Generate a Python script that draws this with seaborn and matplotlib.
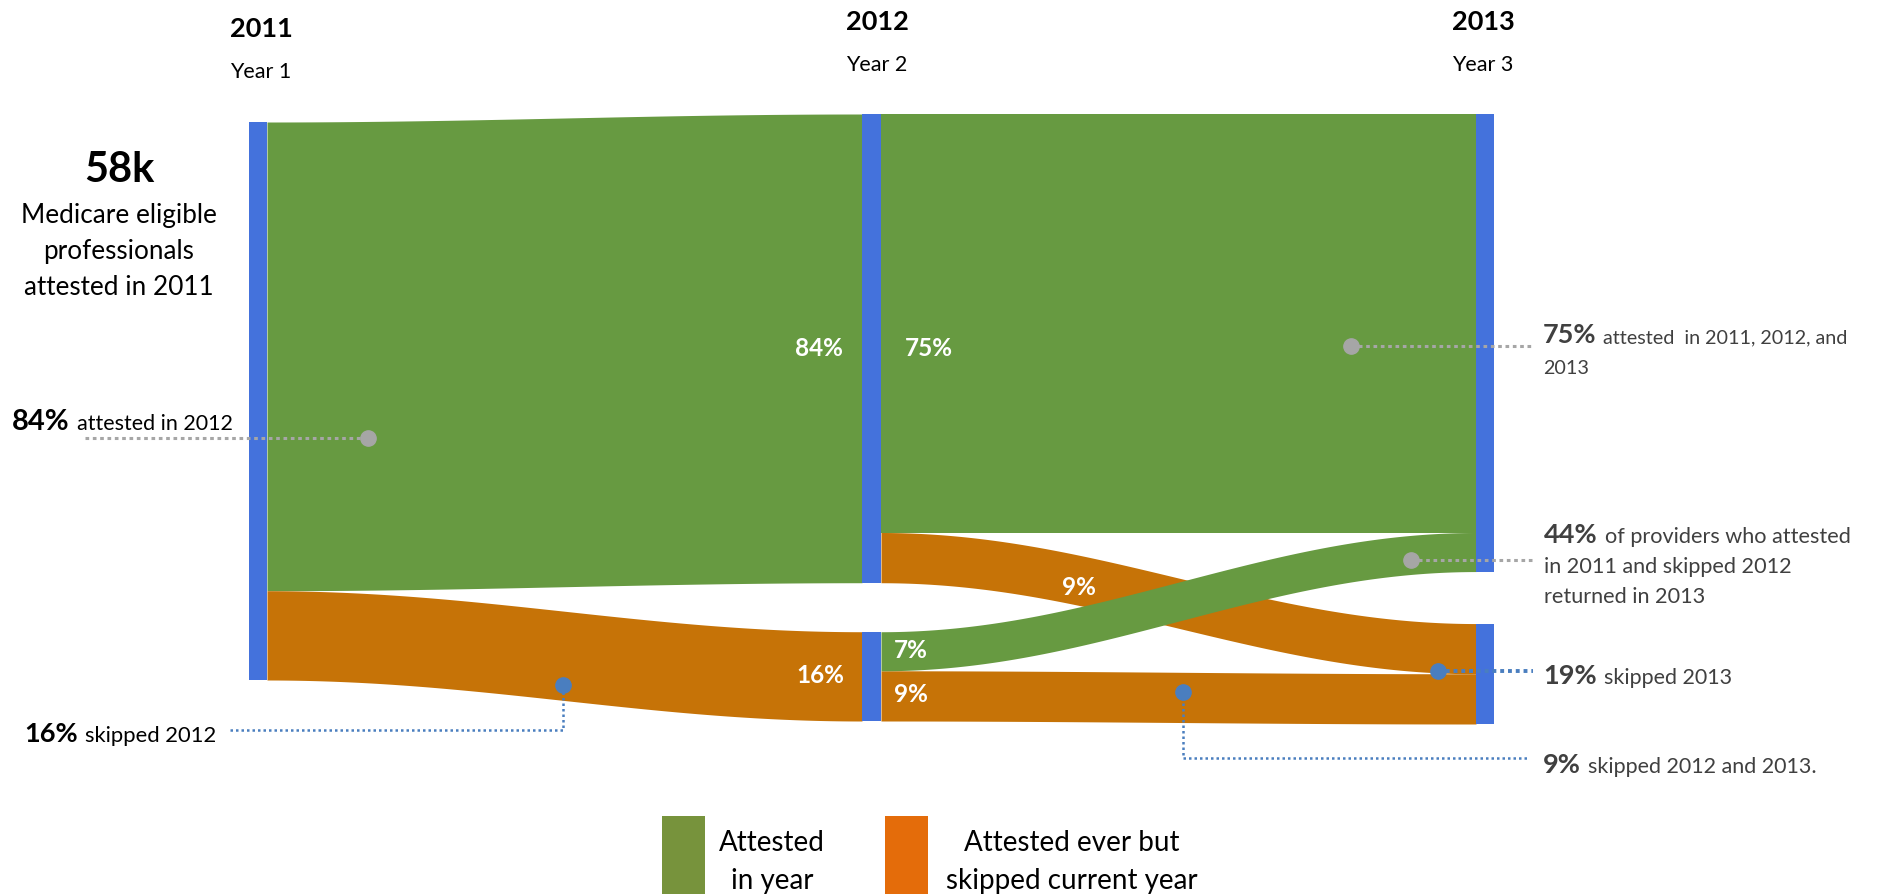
import numpy as np
import matplotlib
matplotlib.use("Agg")
import matplotlib.pyplot as plt
import seaborn as sns

# ---------------- data ----------------
years = ["2011", "2012", "2013"]
year_subtitles = ["Year 1", "Year 2", "Year 3"]
headline_value = "58k"
headline_lines = ["Medicare eligible", "professionals", "attested in 2011"]

# flows 2011 -> 2012 (percent of 2011 attesters)
flow_att_2012 = 84
flow_skip_2012 = 16
# flows 2012 -> 2013
flow_att_att = 75
flow_att_skip = 9
flow_skip_att = 7
flow_skip_skip = 9

# callout annotations: (bold value, rest)
callout_84 = ("84%", "attested in 2012")
callout_16 = ("16%", "skipped 2012")
callout_75 = ("75%", ["attested  in 2011, 2012, and", "2013"])
callout_44 = ("44%", ["of providers who attested", "in 2011 and skipped 2012", "returned in 2013"])
callout_19 = ("19%", "skipped 2013")
callout_9 = ("9%", "skipped 2012 and 2013.")

legend_labels = [["Attested", "in year"], ["Attested ever but", "skipped current year"]]

# ---------------- style ----------------
sns.set_theme(style="white")
plt.rcParams["font.family"] = ["Lato", "DejaVu Sans"]

GREEN = "#679a41"
ORANGE = "#c67307"
BLUE = "#4472dc"
LEG_GREEN = "#77933c"
LEG_ORANGE = "#e46c0a"
GRAY = "#a6a6a6"
DOTBLUE = "#4a7ebf"
TXT = "#404040"

W, H = 1898, 895
fig = plt.figure(figsize=(W / 100, H / 100), dpi=100)
ax = fig.add_axes([0, 0, 1, 1])
ax.set_xlim(0, W)
ax.set_ylim(H, 0)
ax.axis("off")

# ---------------- sankey geometry ----------------
S = 5.58                     # px per percent
node_x = [249, 862, 1476]
node_w = [18, 19, 18]
node_top = [123, 115, 115]
gap_mid, gap_right = 49, 52

L_top = node_top[0]
L_bot = L_top + (flow_att_2012 + flow_skip_2012) * S
M_att_top = node_top[1]
M_att_bot = M_att_top + flow_att_2012 * S
M_skip_top = M_att_bot + gap_mid
M_skip_bot = M_skip_top + flow_skip_2012 * S
R_att_top = node_top[2]
R_att_bot = R_att_top + (flow_att_att + flow_skip_att) * S
R_skip_top = R_att_bot + gap_right
R_skip_bot = R_skip_top + (flow_att_skip + flow_skip_skip) * S


def ribbon(x0, x1, t0, b0, t1, b1, color, z=1):
    t = np.linspace(0, 1, 300)
    s = (1 - np.cos(np.pi * t)) / 2
    x = x0 + (x1 - x0) * t
    top = t0 + (t1 - t0) * s
    bot = b0 + (b1 - b0) * s
    ax.fill_between(x, top, bot, color=color, lw=0, zorder=z)


xL = node_x[0] + node_w[0]
xM0, xM1 = node_x[1], node_x[1] + node_w[1]
xR = node_x[2]

# 2011 -> 2012
split = L_top + flow_att_2012 * S
ribbon(xL, xM0, L_top, split, M_att_top, M_att_bot, GREEN)
ribbon(xL, xM0, split, L_bot, M_skip_top, M_skip_bot, ORANGE)

# 2012 -> 2013
m1 = M_att_top + flow_att_att * S
r1 = R_att_top + flow_att_att * S
ribbon(xM1, xR, M_att_top, m1, R_att_top, r1, GREEN)
ribbon(xM1, xR, m1, M_att_bot, R_skip_top, R_skip_top + flow_att_skip * S, ORANGE)
ms = M_skip_top + flow_skip_att * S
ribbon(xM1, xR, ms, M_skip_bot, R_skip_top + flow_att_skip * S, R_skip_bot, ORANGE)
ribbon(xM1, xR, M_skip_top, ms, r1, R_att_bot, GREEN, z=2)

# nodes
nodes = [
    (node_x[0], node_w[0], L_top, L_bot),
    (node_x[1], node_w[1], M_att_top, M_att_bot),
    (node_x[1], node_w[1], M_skip_top, M_skip_bot),
    (node_x[2], node_w[2], R_att_top, R_att_bot),
    (node_x[2], node_w[2], R_skip_top, R_skip_bot),
]
for x, w, t, b in nodes:
    ax.bar(x, b - t, width=w, bottom=t, align="edge", color=BLUE, lw=0, zorder=5)

# ---------------- flow labels ----------------
lab = dict(color="white", fontsize=17.5, fontweight="bold", va="baseline", zorder=6)
ax.text(843, 356, f"{flow_att_2012}%", ha="right", **lab)
ax.text(905, 356, f"{flow_att_att}%", ha="left", **lab)
ax.text(1062, 595, f"{flow_att_skip}%", ha="left", **lab)
ax.text(844, 683, f"{flow_skip_2012}%", ha="right", **lab)
ax.text(894, 658, f"{flow_skip_att}%", ha="left", **lab)
ax.text(894, 702, f"{flow_skip_skip}%", ha="left", **lab)

# ---------------- headers ----------------
hx = [230, 846, 1452]
hy = [37, 30, 30]
sy = [78, 71, 71]
for x, y, s, yy, ss in zip(hx, hy, years, sy, year_subtitles):
    ax.text(x, y, s, fontsize=19.5, fontweight="bold", color="black", va="baseline", ha="left")
    ax.text(x, yy, ss, fontsize=15.5, color="black", va="baseline", ha="left")

# headline
ax.text(119, 182, headline_value, fontsize=30, fontweight="bold", ha="center", va="baseline", color="black")
for i, line in enumerate(headline_lines):
    ax.text(119, 223 + 36 * i, line, fontsize=18.8, ha="center", va="baseline", color="black")


# ---------------- callouts ----------------
def callout(x, y, val, rest, color, bsize, rsize, lsp=31):
    b = ax.text(x, y, val, fontsize=bsize, fontweight="bold", color=color, va="baseline", ha="left")
    if isinstance(rest, str):
        rest = [rest]
    ax.annotate(rest[0], xy=(1, y), xycoords=(b, "data"), xytext=(5, 0),
                textcoords="offset points", fontsize=rsize, color=color, va="baseline", ha="left")
    for i, r in enumerate(rest[1:], start=1):
        ax.text(x, y + lsp * i, r, fontsize=rsize, color=color, va="baseline", ha="left")


dot_gray = dict(color=GRAY, lw=2.2, ls=(0, (1.2, 1.2)), solid_capstyle="butt", zorder=7)
dot_blue = dict(color=DOTBLUE, lw=1.8, ls=(0, (1.0, 1.2)), zorder=7)

# 84% attested in 2012
callout(12, 430, callout_84[0], callout_84[1], "black", 21, 15.5)
ax.plot([85, 368], [439, 439], **dot_gray)
ax.plot([368], [439], "o", color=GRAY, ms=11, zorder=8)

# 16% skipped 2012
callout(24, 742, callout_16[0], callout_16[1], "black", 19.5, 15.8)
ax.plot([230, 563, 563], [731, 731, 686], **dot_blue)
ax.plot([563], [686], "o", color=DOTBLUE, ms=11, zorder=8)

# 75%
callout(1543, 343, callout_75[0], callout_75[1], TXT, 19.5, 14.2, lsp=31)
ax.plot([1351, 1533], [347, 347], **dot_gray)
ax.plot([1351], [347], "o", color=GRAY, ms=11, zorder=8)

# 44%
callout(1544, 543, callout_44[0], callout_44[1], TXT, 19.5, 15.6, lsp=30)
ax.plot([1411, 1533], [561, 561], **dot_gray)
ax.plot([1411], [561], "o", color=GRAY, ms=11, zorder=8)

# 19%
callout(1543, 684, callout_19[0], callout_19[1], TXT, 19.5, 15.5)
ax.plot([1438, 1533], [672, 672], color=DOTBLUE, lw=2.8, ls=(0, (1.0, 1.0)), zorder=7)
ax.plot([1438], [672], "o", color=DOTBLUE, ms=11, zorder=8)

# 9%
callout(1543, 773, callout_9[0], callout_9[1], TXT, 19.5, 15.5)
ax.plot([1183, 1183, 1528], [693, 759, 759], **dot_blue)
ax.plot([1183], [693], "o", color=DOTBLUE, ms=11, zorder=8)

# ---------------- legend ----------------
ax.bar(662, H - 817, width=43, bottom=817, align="edge", color=LEG_GREEN, lw=0, clip_on=False)
ax.bar(885, H - 817, width=43, bottom=817, align="edge", color=LEG_ORANGE, lw=0, clip_on=False)
ax.text(772, 851, legend_labels[0][0], fontsize=20, ha="center", va="baseline", color="black")
ax.text(772, 889, legend_labels[0][1], fontsize=20, ha="center", va="baseline", color="black")
ax.text(1072, 851, legend_labels[1][0], fontsize=20, ha="center", va="baseline", color="black")
ax.text(1072, 889, legend_labels[1][1], fontsize=20, ha="center", va="baseline", color="black")

fig.savefig("out.png", dpi=100, facecolor="white")
